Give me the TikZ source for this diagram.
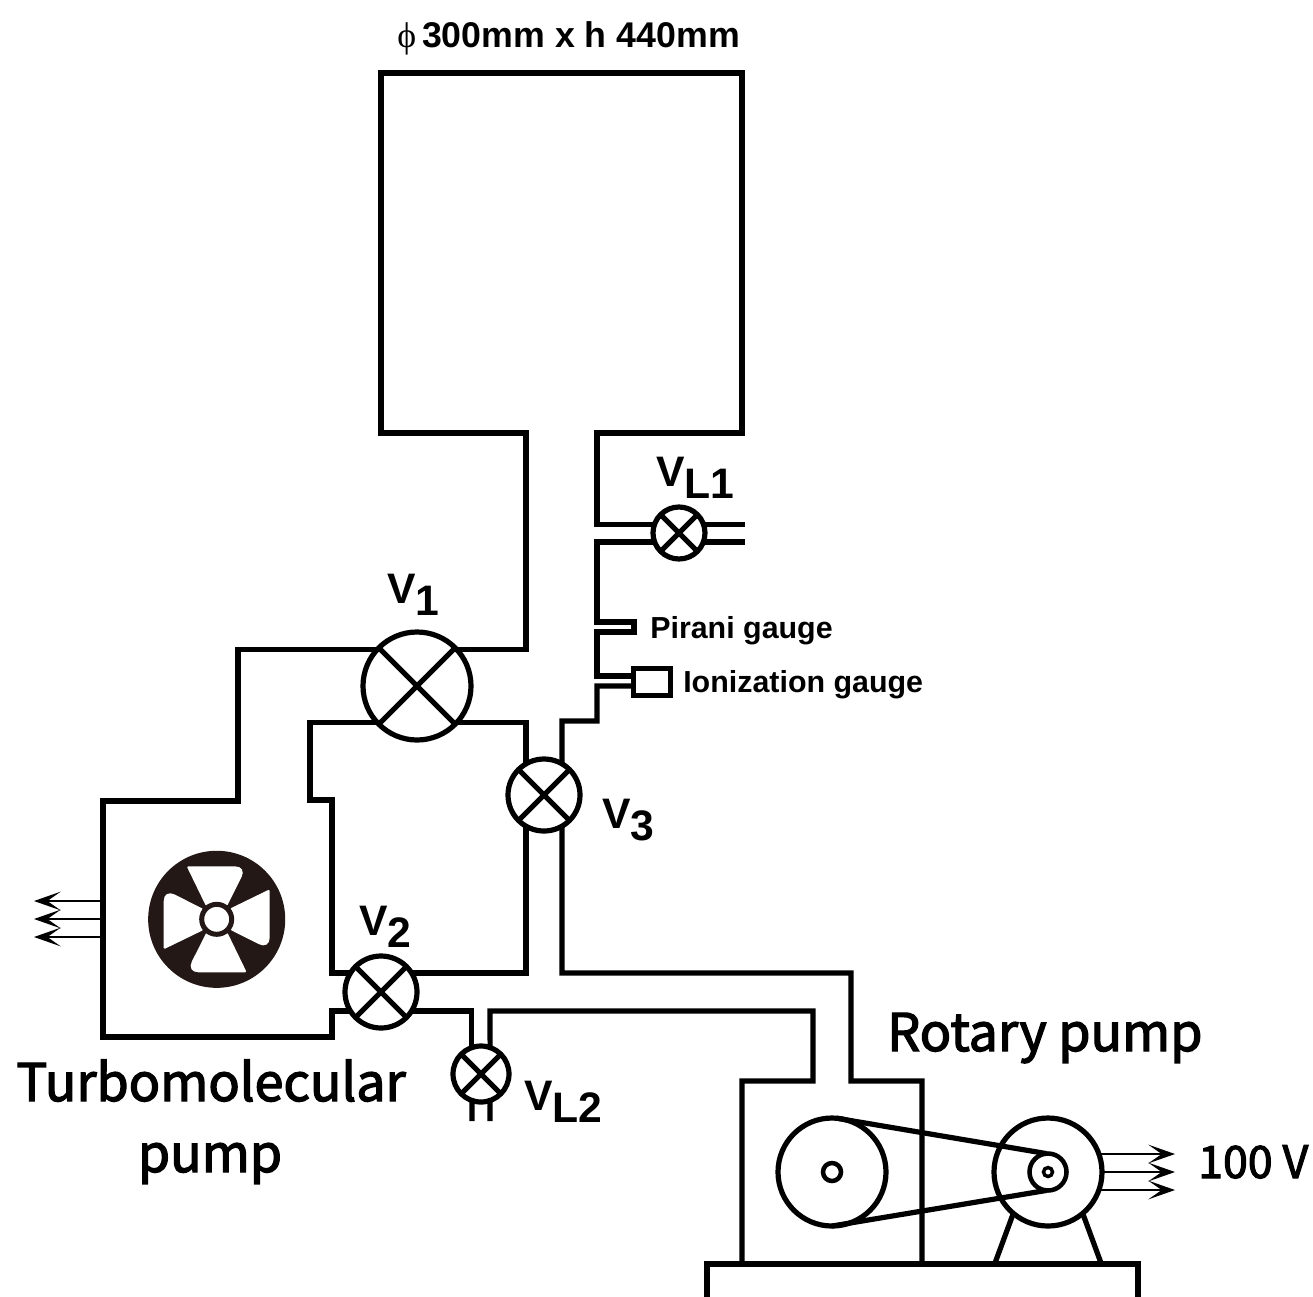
\documentclass[tikz,border=0pt]{standalone}
\usepackage{fontspec}
\setmainfont{Liberation Sans}
\newfontfamily\gothfont[FakeBold=2.5]{Noto Sans CJK JP}
\newfontfamily\phifont{Liberation Serif}
\usetikzlibrary{arrows.meta}
\newcommand{\valvelabel}[1]{\fontsize{32}{32}\selectfont\bfseries V\raisebox{-9.5pt}{#1}}
\definecolor{fanblack}{RGB}{35,24,21}
\tikzset{
  pipe/.style={line width=3.9pt,line join=miter,line cap=butt},
  valve/.style={circle,draw,line width=3.9pt,minimum size=#1,inner sep=0pt,outer sep=0pt,fill=white},
  flow/.style={line width=1.9pt,-{Stealth[length=20pt,width=14pt,inset=10pt]}},
  gothlabel/.style={font=\gothfont\fontsize{39}{39}\selectfont,inner sep=0pt},
  smalllabel/.style={font=\fontsize{22.8}{22.8}\selectfont\bfseries,inner sep=0pt,anchor=west},
  vlabel/.style={inner sep=0pt},
  ring/.style={circle,draw,line width=#1,inner sep=0pt,outer sep=0pt}
}
\begin{document}
\begin{tikzpicture}[x=0.75pt,y=-0.75pt]
\useasboundingbox (0,0) rectangle (1313,1296);
% valves
\node[valve=81pt] (v1) at (417,686) {};
\node[valve=54pt] (v2) at (381,992) {};
\node[valve=54pt] (v3) at (544,795) {};
\node[valve=39pt] (vl1) at (679,533) {};
\node[valve=42pt] (vl2) at (481,1074) {};
\foreach \v in {v1,v2,v3,vl1,vl2}{
  \draw[pipe] (\v.45) -- (\v.225);
  \draw[pipe] (\v.135) -- (\v.315);
}
% gauge bodies
\node[draw,line width=3.9pt,minimum width=27.75pt,minimum height=20.25pt,inner sep=0pt,outer sep=0pt] (ion) at (652,682) {};
% chamber and pipes
\coordinate (vlend) at (745,533);
\draw[pipe] (vl1.160) -| (597,433) -- (742,433) -- (742,73) -- (381,73) -- (381,433) -- (526,433) |- (v1.42);
\draw[pipe] (vl1.200) -| (597,622) -- (634,622) -- (634,632) -- (597,632) -- (597,676) -- (ion.west |- 597,676);
\draw[pipe] (ion.west |- 597,686) -- (597,686) -- (597,721) -- (562,721) -- (v3.60);
\draw[pipe] (vl1.20) -- (vl1.20 -| vlend);
\draw[pipe] (vl1.-20) -- (vl1.-20 -| vlend);
\draw[pipe] (v1.-42) -| (v3.120);
\draw[pipe] (v1.138) -| (238,801) -- (103,801) -- (103,1037) -- (332,1037) |- (v2.212);
\draw[pipe] (v1.222) -| (310,800) -- (332,800) |- (v2.148);
\draw[pipe] (v3.240) |- (v2.32);
\draw[pipe] (v3.300) -- (562,973) -- (851,973) -- (851,1081) -- (922,1081) -- (922,1263);
\draw[pipe] (v2.-32) -| (vl2.109);
\draw[pipe] (vl2.71) -- (490,1011) -- (813,1011) -- (813,1081) -- (742,1081) -- (742,1263);
\draw[pipe] (vl2.251) -- (472,1121);
\draw[pipe] (vl2.289) -- (490,1121);
% base
\draw[pipe] (707,1300) -- (707,1264) -- (1138,1264) -- (1138,1300);
% rotary pump
\node[ring=3.9pt,minimum size=81pt] (pulley) at (832,1172) {};
\node[ring=3.4pt,minimum size=13.5pt] (axle) at (832,1172) {};
\node[ring=3.9pt,minimum size=81pt] (motor) at (1048,1172) {};
\node[ring=3.4pt,minimum size=27.75pt] (mpulley) at (1048,1172) {};
\node[ring=2.6pt,minimum size=6.75pt] (maxle) at (1048,1172) {};
\draw[pipe] (pulley.85) -- (mpulley.95);
\draw[pipe] (pulley.270) -- (mpulley.265);
\draw[pipe] (motor.230) -- (995,1263);
\draw[pipe] (motor.310) -- (1101,1263);
% flows
\foreach \y in {1154,1172,1190}{
  \coordinate (rs\y) at (1101,\y);
  \coordinate (re\y) at (1175,\y);
  \draw[flow] (rs\y) -- (re\y);
}
\foreach \y in {901,919,937}{
  \coordinate (ls\y) at (102,\y);
  \coordinate (le\y) at (34,\y);
  \draw[flow] (ls\y) -- (le\y);
}
% fan
\fill[fanblack] (216.7,919.3) circle (51.4pt);
\foreach \a in {0,90,180,270}{
  \fill[white,rotate around={\a:(216.7,919.3)},rounded corners=1.5pt]
    (186.7,866.3) [rounded corners=9pt] -- (247,866.3) [rounded corners=1pt] -- (227,906) -- (206,906) -- cycle;
}
\node[circle,draw=fanblack,fill=white,line width=3.75pt,minimum size=22.5pt,inner sep=0pt,outer sep=0pt] (hub) at (216.7,919.3) {};
% labels
\node[inner sep=0pt,anchor=base west] (size) at (397,47) {\fontsize{26.8}{26.8}\selectfont{\phifont ϕ}\,\bfseries 300mm x h 440mm};
\node[vlabel,anchor=base west] (lv1) at (387,603) {\valvelabel{1}};
\node[vlabel,anchor=base west] (lv2) at (359,935) {\valvelabel{2}};
\node[vlabel,anchor=base west] (lv3) at (602,828) {\valvelabel{3}};
\node[vlabel,anchor=base west] (lvl1) at (656,486) {\valvelabel{L1}};
\node[vlabel,anchor=base west] (lvl2) at (524,1110) {\valvelabel{L2}};
\node[smalllabel] (pir) at (650,631) {Pirani gauge};
\node[smalllabel] (ioni) at (683,685) {Ionization gauge};
\node[gothlabel,anchor=base] (tmp1) at (211,1101) {Turbomolecular};
\node[gothlabel,anchor=base] (tmp2) at (210,1172) {pump};
\node[gothlabel,anchor=base west] (rp) at (887,1051) {Rotary pump};
\node[gothlabel,anchor=base west,font=\gothfont\fontsize{33.5}{33.5}\selectfont] (volt) at (1198,1178) {100 V};
\end{tikzpicture}
\end{document}
